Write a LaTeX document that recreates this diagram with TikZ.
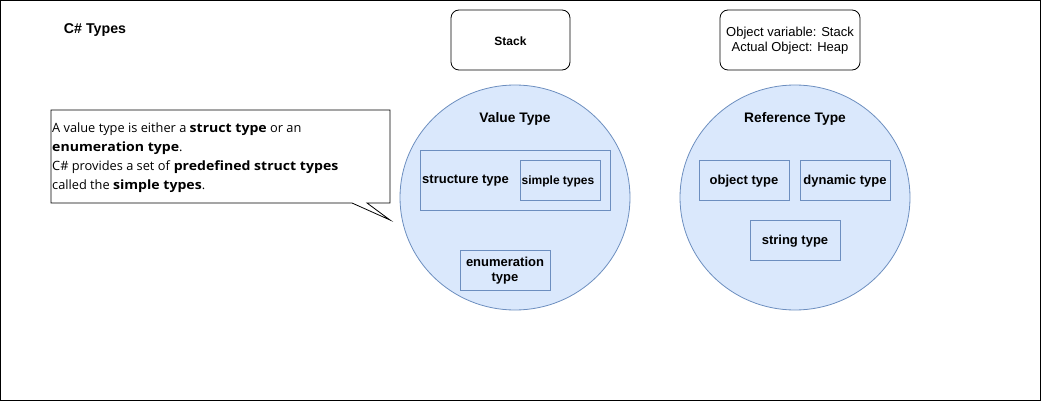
\documentclass[tikz,border=0pt]{standalone}
\usepackage{fontspec}
\setmainfont{Liberation Sans}
\newfontfamily\calloutfont[BoldFeatures={FakeStretch=1.1}]{Open Sans}
\definecolor{bfill}{HTML}{DAE8FC}
\definecolor{bline}{HTML}{6C8EBF}
\begin{document}
\begin{tikzpicture}[x=1pt,y=-1pt,
  lbl/.style={font=\fontsize{13}{15}\selectfont\bfseries,inner sep=0pt},
  head/.style={font=\fontsize{13.8}{16}\selectfont\bfseries,inner sep=0pt},
  rbox/.style={draw=black,rounded corners=8pt,line width=0.8pt,fill=white},
  bluebox/.style={draw=bline,line width=0.8pt},
  bubble/.style={draw=bline,fill=bfill,line width=0.8pt}]
\useasboundingbox (0,0) rectangle (1041,401);
\draw[line width=1pt] (0.5,0.5) rectangle (1040.5,400.5);
\node[head,font=\fontsize{14.2}{16}\selectfont\bfseries] (title) at (95,30) {C\# Types};
% top boxes
\draw[rbox] (451,10) rectangle (570,70);
\node[lbl,font=\fontsize{12}{14}\selectfont\bfseries] (stack) at (510.5,41) {Stack};
\draw[rbox] (720,10) rectangle (860,70);
\node[font=\fontsize{13}{15}\selectfont,align=center,inner sep=0pt] (heap) at (790,41) {Object variable: Stack\\Actual Object: Heap};
% circles
\draw[bubble] (515,197.5) ellipse [x radius=115, y radius=112.5];
\node[head] (vt) at (515,119) {Value Type};
\draw[bluebox] (420,150) rectangle (610,210);
\node[lbl,anchor=west] (st) at (422,181) {structure type};
\draw[bluebox] (520,160) rectangle (600,200);
\node[lbl,font=\fontsize{12}{14}\selectfont\bfseries] (simple) at (558,181) {simple types};
\draw[bluebox] (460,250) rectangle (550,290);
\node[lbl,align=center] (enum) at (505,271) {enumeration\\type};
\draw[bubble] (795,197.5) ellipse [x radius=115, y radius=112.5];
\node[head] (rt) at (795,119) {Reference Type};
\draw[bluebox] (699,160) rectangle (789,200);
\node[lbl] (obj) at (744,181) {object type};
\draw[bluebox] (800,160) rectangle (890,200);
\node[lbl] (dyn) at (845,181) {dynamic type};
\draw[bluebox] (750,220) rectangle (840,260);
\node[lbl] (str) at (795,241) {string type};
% callout
\draw[line width=0.8pt,fill=white,line join=miter] (51,110) -- (390,110) -- (390,203) -- (367,203) -- (390,220) -- (352,203) -- (51,203) -- cycle;
\node[anchor=north west,align=left,inner sep=0pt,font=\calloutfont\fontsize{12.8}{19}\selectfont] (note) at (52,123)
{A value type is either a \textbf{struct type} or an\\\textbf{enumeration type}.\\C\# provides a set of \textbf{predefined struct types}\\called the \textbf{simple types}.};
\end{tikzpicture}
\end{document}
